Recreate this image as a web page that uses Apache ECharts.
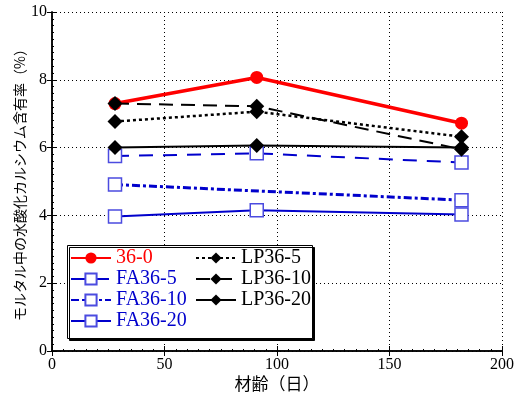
<!DOCTYPE html>
<html>
<head>
<meta charset="utf-8">
<script src="https://cdn.jsdelivr.net/npm/echarts@6/dist/echarts.min.js"></script>
<style>
  html, body { margin: 0; padding: 0; background: #fff; }
  #main { width: 519px; height: 396px; }
</style>
</head>
<body>
<div id="main"></div>
<script>
// material age (days)
const ages = [28, 91, 182];
const s36_0 = [7.3, 8.07, 6.72];
const fa36_5 = [5.75, 5.83, 5.56];
const fa36_10 = [4.91, null, 4.45];
const fa36_20 = [3.97, 4.15, 4.03];
const lp36_5 = [6.77, 7.06, 6.32];
const lp36_10 = [7.3, 7.22, 5.95];
const lp36_20 = [6.0, 6.06, 6.0];

const xTicks = [0, 50, 100, 150, 200];
const yTicks = [0, 2, 4, 6, 8, 10];

const serif = 'Liberation Serif';
const sans = 'Noto Sans CJK JP';
const blue = '#0000cc';
const sqBlue = '#4b4be0';

const pairs = (vals)=>ages.map((a, i)=>[a, vals[i]]);

const mkSeries = (name, vals, color, width, type, symbol, size, symColor, fill)=>{
    return {
        name,
        type: 'line',
        data: pairs(vals),
        connectNulls: true,
        symbol,
        symbolSize: size,
        showAllSymbol: true,
        lineStyle: { color, width, type },
        itemStyle: {
            color: fill,
            borderColor: symColor,
            borderWidth: symbol == 'rect' ? 1.5 : 0
        },
        emphasis: { disabled: true },
        z: 2
    };
};

const chart = echarts.init(document.getElementById('main'));

const baseX = {
    type: 'value',
    min: xTicks[0],
    max: xTicks[xTicks.length - 1],
    interval: 50
};
const baseY = {
    type: 'value',
    min: yTicks[0],
    max: yTicks[yTicks.length - 1],
    interval: 2
};

chart.setOption({
    animation: false,
    grid: { left: 52, right: 17, top: 12, bottom: 45, outerBoundsMode: 'none' },
    xAxis: [
        Object.assign({}, baseX, {
            position: 'bottom',
            name: '材齢（日）',
            nameLocation: 'middle',
            nameGap: 24,
            nameMoveOverlap: false,
            nameTextStyle: { fontFamily: sans, fontSize: 17, color: '#000' },
            axisLine: { show: true, lineStyle: { color: '#000', width: 1.5 } },
            axisTick: { show: true, inside: true, length: 5, lineStyle: { color: '#000' } },
            minorTick: { show: true, splitNumber: 10, length: 2, lineStyle: { color: '#000' } },
            axisLabel: { fontFamily: serif, fontSize: 16, color: '#000', margin: 6 },
            splitLine: { show: true, lineStyle: { color: '#000', type: [1, 3], width: 1 } }
        }),
        Object.assign({}, baseX, {
            position: 'top',
            axisLine: { show: true, lineStyle: { color: '#000', width: 1.5 } },
            axisTick: { show: true, inside: true, length: 5, lineStyle: { color: '#000' } },
            axisLabel: { show: false },
            splitLine: { show: false }
        })
    ],
    yAxis: [
        Object.assign({}, baseY, {
            position: 'left',
            name: 'モルタル中の水酸化カルシウム含有率（%）',
            nameLocation: 'middle',
            nameGap: 32,
            nameRotate: 90,
            nameMoveOverlap: false,
            nameTextStyle: { fontFamily: sans, fontSize: 14, color: '#000', verticalAlign: 'middle' },
            axisLine: { show: true, lineStyle: { color: '#000', width: 1.5 } },
            axisTick: { show: true, inside: true, length: 5, lineStyle: { color: '#000' } },
            minorTick: { show: true, splitNumber: 10, length: 2, lineStyle: { color: '#000' } },
            axisLabel: { fontFamily: serif, fontSize: 16, color: '#000', margin: 5 },
            splitLine: { show: true, lineStyle: { color: '#000', type: [1, 3], width: 1 } }
        }),
        Object.assign({}, baseY, {
            position: 'right',
            axisLine: { show: true, lineStyle: { color: '#000', width: 1.5 } },
            axisTick: { show: true, inside: true, length: 5, lineStyle: { color: '#000' } },
            axisLabel: { show: false },
            splitLine: { show: false }
        })
    ],
    graphic: [{
        type: 'rect',
        left: 67,
        top: 245,
        z: 3,
        shape: { width: 245, height: 93 },
        style: {
            fill: '#fff',
            stroke: '#000',
            lineWidth: 1,
            shadowColor: '#000',
            shadowOffsetX: 2,
            shadowOffsetY: 2,
            shadowBlur: 0
        }
    }],
    legend: [
        {
            orient: 'vertical',
            left: 70,
            top: 248,
            padding: 0,
            itemGap: 1,
            itemWidth: 40,
            itemHeight: 14,
            z: 5,
            textStyle: { fontFamily: serif, fontSize: 20, lineHeight: 20 },
            data: [
                { name: '36-0', textStyle: { color: '#ff0000' } },
                { name: 'FA36-5', textStyle: { color: blue } },
                { name: 'FA36-10', textStyle: { color: blue } },
                { name: 'FA36-20', textStyle: { color: blue } }
            ]
        },
        {
            orient: 'vertical',
            left: 195,
            top: 248,
            padding: 0,
            itemGap: 1,
            itemWidth: 40,
            itemHeight: 14,
            z: 5,
            textStyle: { fontFamily: serif, fontSize: 20, lineHeight: 20, color: '#000' },
            data: ['LP36-5', 'LP36-10', 'LP36-20']
        }
    ],
    series: [
        mkSeries('36-0', s36_0, '#ff0000', 3.5, 'solid', 'circle', 13, '#ff0000', '#ff0000'),
        mkSeries('FA36-5', fa36_5, blue, 2, [14, 10], 'rect', 13, sqBlue, '#fff'),
        mkSeries('FA36-10', fa36_10, blue, 3, [8, 3, 3, 3], 'rect', 13, sqBlue, '#fff'),
        mkSeries('FA36-20', fa36_20, blue, 2, 'solid', 'rect', 13, sqBlue, '#fff'),
        mkSeries('LP36-5', lp36_5, '#000', 2.5, [3, 3], 'diamond', 15, '#000', '#000'),
        mkSeries('LP36-10', lp36_10, '#000', 2, [14, 8], 'diamond', 15, '#000', '#000'),
        mkSeries('LP36-20', lp36_20, '#000', 2, 'solid', 'diamond', 15, '#000', '#000')
    ]
});
</script>
</body>
</html>
